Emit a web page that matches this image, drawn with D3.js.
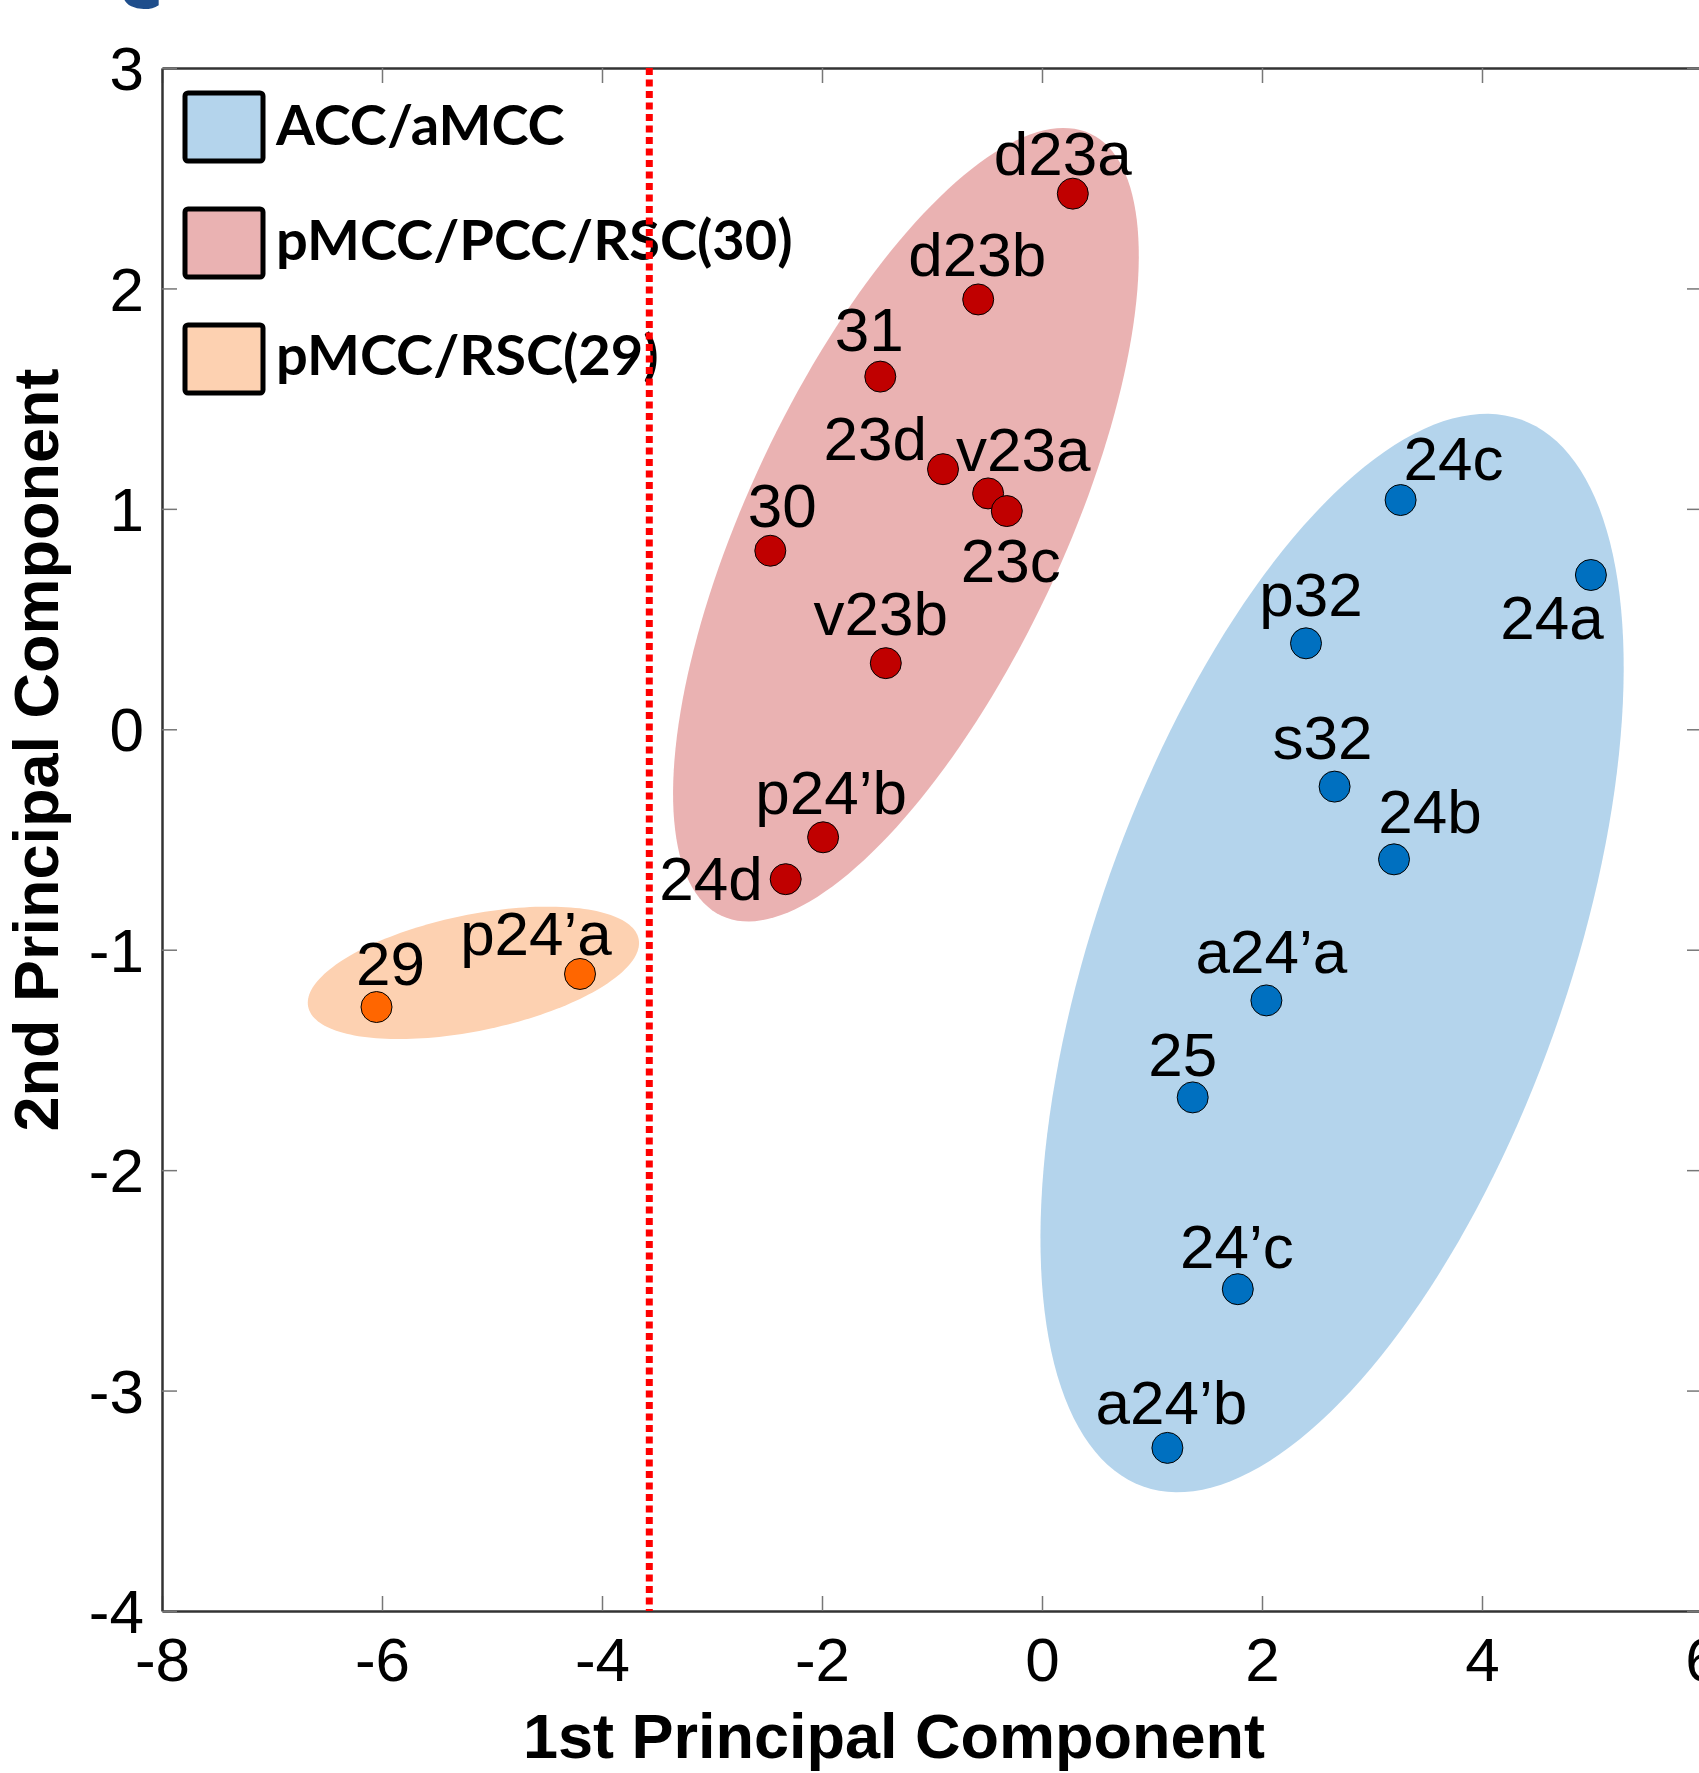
<!DOCTYPE html>
<html>
<head>
<meta charset="utf-8">
<script src="https://cdn.jsdelivr.net/npm/d3@7"></script>
<style>
  body { margin: 0; background: #fff; }
  svg { display: block; }
  .tick text { font-family: "Liberation Sans", Arial, sans-serif; font-size: 62px; fill: #000; }
  .ptLabel { font-family: "Liberation Sans", Arial, sans-serif; font-size: 62px; fill: #000; }
  .axisTitle { font-family: "Liberation Sans", Arial, sans-serif; font-size: 63px; font-weight: bold; fill: #000; }
  .legendText { font-family: Lato, "Open Sans", sans-serif; font-size: 56px; font-weight: bold; fill: #000; }
</style>
</head>
<body>
<div id="chart"></div>
<script>
var svgWidth = 1699;
var svgHeight = 1773;

// data
var areaNames = ["d23a", "d23b", "31", "23d", "v23a", "23c", "30", "v23b", "p24’b", "24d",
                 "29", "p24’a",
                 "24c", "24a", "p32", "s32", "24b", "a24’a", "25", "24’c", "a24’b"];
var pc1 = [0.28, -0.58, -1.47, -0.90, -0.49, -0.32, -2.47, -1.42, -1.99, -2.33,
           -6.05, -4.20,
           3.26, 4.99, 2.40, 2.66, 3.20, 2.04, 1.37, 1.78, 1.14];
var pc2 = [2.43, 1.95, 1.60, 1.18, 1.07, 0.99, 0.81, 0.30, -0.49, -0.68,
           -1.26, -1.11,
           1.04, 0.70, 0.39, -0.26, -0.59, -1.23, -1.67, -2.54, -3.26];
var areaGroup = [1, 1, 1, 1, 1, 1, 1, 1, 1, 1,
                 2, 2,
                 0, 0, 0, 0, 0, 0, 0, 0, 0];

var groupNames = ["ACC/aMCC", "pMCC/PCC/RSC(30)", "pMCC/RSC(29)"];
// shaded regions: centre, major and minor semi-axis vectors (data units)
var regionCentre = [[2.637, -1.015], [-1.237, 0.928], [-5.169, -1.105]];
var regionMajor = [[1.717, 2.420], [1.677, 1.774], [1.502, 0.154]];
var regionMinor = [[2.020, -0.357], [1.292, -0.304], [0.106, -0.258]];

var xTicks = [-8, -6, -4, -2, 0, 2, 4, 6];
var yTicks = [-4, -3, -2, -1, 0, 1, 2, 3];
var cutoff = -3.57;

var dotColor = ["#0070c0", "#c00000", "#ff6600"];
var areaColor = ["#b4d4ec", "#eab2b2", "#fdd1b1"];

// label placement relative to the dot: [dx, dy, anchor]
var labelPos = {
  "d23a": [-10, -19, "middle"], "d23b": [-1, -23, "middle"], "31": [-11, -26, "middle"],
  "23d": [-16, -9, "end"], "v23a": [-32, -22, "start"], "23c": [4, 71, "middle"],
  "30": [12, -24, "middle"], "v23b": [-5, -28, "middle"], "p24’b": [8, -23, "middle"],
  "24d": [-23, 21, "end"], "29": [14, -22, "middle"], "p24’a": [-44, -19, "middle"],
  "24c": [3, -20, "start"], "24a": [-39, 64, "middle"], "p32": [5, -27, "middle"],
  "s32": [-12, -28, "middle"], "24b": [36, -26, "middle"], "a24’a": [5, -27, "middle"],
  "25": [-10, -21, "middle"], "24’c": [-1, -21, "middle"], "a24’b": [4, -24, "middle"]
};

var margin = { top: 68, left: 162, right: -3, bottom: 162 };

var svg = d3.select("#chart")
  .append("svg")
  .attr("width", svgWidth)
  .attr("height", svgHeight);

var xScale = d3.scaleLinear().domain([-8, 6]).range([margin.left, svgWidth - margin.right]);
var yScale = d3.scaleLinear().domain([-4, 3]).range([svgHeight - margin.bottom, margin.top]);

// panel letter cut off at the top edge
svg.append("text")
  .attr("x", 140)
  .attr("y", 8)
  .attr("text-anchor", "middle")
  .style("font-family", "'Open Sans', sans-serif")
  .style("font-weight", "bold")
  .style("font-size", "90px")
  .style("fill", "#1f4e8c")
  .text("c");

// shaded regions
var ellipseLine = d3.line()
  .x(d => xScale(d[0]))
  .y(d => yScale(d[1]))
  .curve(d3.curveLinearClosed);

groupNames.forEach(function(g, i) {
  var pts = d3.range(0, 360, 2).map(function(deg) {
    var t = deg * Math.PI / 180;
    return [regionCentre[i][0] + regionMajor[i][0] * Math.cos(t) + regionMinor[i][0] * Math.sin(t),
            regionCentre[i][1] + regionMajor[i][1] * Math.cos(t) + regionMinor[i][1] * Math.sin(t)];
  });
  svg.append("path")
    .attr("d", ellipseLine(pts))
    .attr("fill", areaColor[i]);
});

// axes, box style with inward ticks
var axisG = svg.append("g");
var bottomAxis = axisG.append("g")
  .attr("transform", `translate(0, ${yScale(-4)})`)
  .call(d3.axisBottom(xScale).tickValues(xTicks).tickSizeInner(-15).tickSizeOuter(0).tickPadding(26).tickFormat(d => String(d)));
axisG.append("g")
  .attr("transform", `translate(0, ${yScale(3)})`)
  .call(d3.axisTop(xScale).tickValues(xTicks).tickSizeInner(-15).tickSizeOuter(0).tickFormat(""));
var leftAxis = axisG.append("g")
  .attr("transform", `translate(${xScale(-8)}, 0)`)
  .call(d3.axisLeft(yScale).tickValues(yTicks).tickSizeInner(-15).tickSizeOuter(0).tickPadding(18).tickFormat(d => String(d)));
axisG.append("g")
  .attr("transform", `translate(${xScale(6)}, 0)`)
  .call(d3.axisRight(yScale).tickValues(yTicks).tickSizeInner(-15).tickSizeOuter(0).tickFormat(""));

axisG.selectAll(".domain").attr("stroke", "#333").attr("stroke-width", 2.5);
axisG.selectAll(".tick line").attr("stroke", "#777").attr("stroke-width", 1.5);
bottomAxis.selectAll(".tick text").attr("dy", "0.71em");
leftAxis.selectAll(".tick text").attr("dy", "0.35em");

// points
var points = areaNames.map((n, i) => ({ name: n, x: pc1[i], y: pc2[i], g: areaGroup[i] }));

svg.selectAll("circle.dot")
  .data(points)
  .enter()
  .append("circle")
  .attr("class", "dot")
  .attr("cx", d => xScale(d.x))
  .attr("cy", d => yScale(d.y))
  .attr("r", 15.5)
  .attr("fill", d => dotColor[d.g])
  .attr("stroke", "#000")
  .attr("stroke-width", 1);

svg.selectAll("text.ptLabel")
  .data(points)
  .enter()
  .append("text")
  .attr("class", "ptLabel")
  .attr("x", d => xScale(d.x) + labelPos[d.name][0])
  .attr("y", d => yScale(d.y) + labelPos[d.name][1])
  .attr("text-anchor", d => labelPos[d.name][2])
  .text(d => d.name);

// legend
var legend = svg.append("g");
groupNames.forEach(function(g, i) {
  legend.append("rect")
    .attr("x", 185)
    .attr("y", 93 + i * 116)
    .attr("width", 78)
    .attr("height", 68)
    .attr("rx", 3)
    .attr("fill", areaColor[i])
    .attr("stroke", "#000")
    .attr("stroke-width", 5);
  legend.append("text")
    .attr("class", "legendText")
    .attr("x", 276)
    .attr("y", 145 + i * 115)
    .text(g);
});

// cut-off line
svg.append("line")
  .attr("x1", xScale(cutoff))
  .attr("x2", xScale(cutoff))
  .attr("y1", yScale(3))
  .attr("y2", yScale(-4))
  .attr("stroke", "#ff0000")
  .attr("stroke-width", 7)
  .attr("stroke-dasharray", "7,4.5");

// axis titles
svg.append("text")
  .attr("class", "axisTitle")
  .attr("x", 894)
  .attr("y", 1758)
  .attr("text-anchor", "middle")
  .text("1st Principal Component");

svg.append("text")
  .attr("class", "axisTitle")
  .attr("transform", "translate(58, 750) rotate(-90)")
  .attr("text-anchor", "middle")
  .text("2nd Principal Component");
</script>
</body>
</html>
